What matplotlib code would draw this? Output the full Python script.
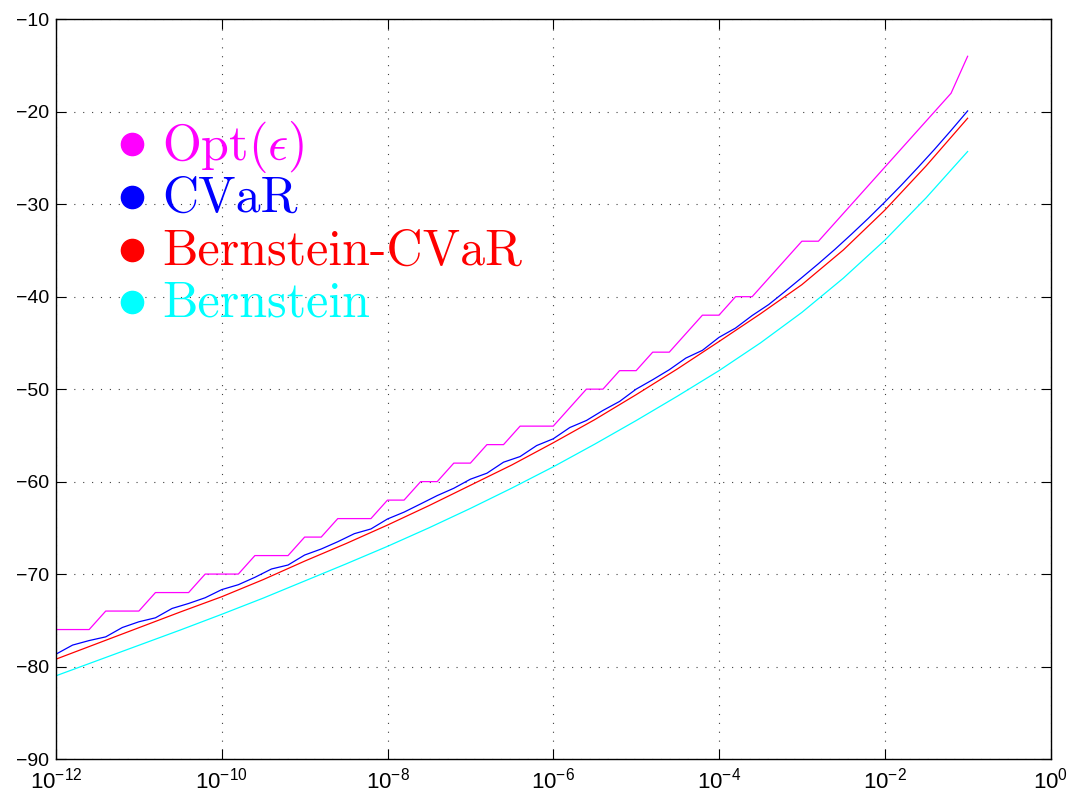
import numpy as np
import matplotlib
matplotlib.use("Agg")
from matplotlib import pyplot as plt

# epsilon grid for Opt and CVaR: 10^-12 ... 10^-1 in steps of 0.2 decade
eps_fine = 10.0 ** np.linspace(-12, -1, 56)
# epsilon grid for the smooth Bernstein curves: half decades
eps_half = 10.0 ** np.arange(-12, -0.99, 0.5)

opt_eps = [-76, -76, -76, -74, -74, -74, -72, -72, -72, -70,
           -70, -70, -68, -68, -68, -66, -66, -64, -64, -64,
           -62, -62, -60, -60, -58, -58, -56, -56, -54, -54,
           -54, -52, -50, -50, -48, -48, -46, -46, -44, -42,
           -42, -40, -40, -38, -36, -34, -34, -32, -30, -28,
           -26, -24, -22, -20, -18, -14]

cvar = [-78.66, -77.68, -77.19, -76.79, -75.78, -75.16, -74.73, -73.72, -73.18, -72.56,
        -71.68, -71.15, -70.35, -69.45, -69.02, -67.94, -67.29, -66.50, -65.63, -65.12,
        -64.04, -63.30, -62.41, -61.51, -60.72, -59.74, -59.09, -57.90, -57.29, -56.10,
        -55.37, -54.15, -53.39, -52.30, -51.33, -50.00, -48.98, -47.90, -46.64, -45.80,
        -44.40, -43.39, -42.04, -40.85, -39.41, -37.93, -36.43, -34.87, -33.23, -31.54,
        -29.77, -27.94, -26.03, -24.07, -22.02, -19.91]

bern_cvar = [-79.2, -77.5, -75.8, -74.1, -72.45, -70.6, -68.6, -66.7, -64.7, -62.6,
             -60.4, -58.2, -55.8, -53.3, -50.6, -47.8, -44.85, -41.85, -38.7, -34.95,
             -30.65, -25.85, -20.7]

bernstein = [-81.0, -79.35, -77.7, -76.05, -74.35, -72.6, -70.75, -68.9, -67.0, -65.0,
             -62.9, -60.7, -58.4, -55.95, -53.4, -50.75, -48.0, -45.0, -41.7, -38.0,
             -33.9, -29.3, -24.3]

labels = ["Opt($\\epsilon$)", "CVaR", "Bernstein-CVaR", "Bernstein"]
colors = ["#ff00ff", "#0000ff", "#ff0000", "#00ffff"]

W, H = 1068, 794
plt.rcParams['font.family'] = ['Liberation Sans', 'DejaVu Sans']
plt.rcParams['mathtext.fontset'] = 'custom'
plt.rcParams['mathtext.rm'] = 'Liberation Sans'
plt.rcParams['mathtext.it'] = 'Liberation Sans:italic'

fig = plt.figure(figsize=(W / 100, H / 100), dpi=100)
ax = fig.add_axes([56 / W, 1 - 759 / H, 994.5 / W, 739.7 / H])

lw = 0.9
ax.plot(eps_fine, opt_eps, color=colors[0], lw=lw)
ax.plot(eps_fine, cvar, color=colors[1], lw=lw)
ax.plot(eps_half, bern_cvar, color=colors[2], lw=lw)
ax.plot(eps_half, bernstein, color=colors[3], lw=lw)

ax.set_xscale('log')
ax.set_xlim(1e-12, 1e0)
ax.set_ylim(-90, -10)
xt = 10.0 ** np.arange(-12, 1, 2)
ax.set_xticks(xt)
ax.set_xticklabels(["$\\mathregular{10^{%d}}$" % k for k in range(-12, 1, 2)])
ax.xaxis.set_minor_locator(matplotlib.ticker.NullLocator())
ax.set_yticks(np.arange(-90, -9, 10))

ax.tick_params(which='major', direction='in', length=7.2, width=0.8,
               top=True, right=True, colors='black')
ax.tick_params(axis='x', pad=6, labelsize=16)
ax.tick_params(axis='y', pad=5, labelsize=14)
for s in ax.spines.values():
    s.set_linewidth(1.0)

ax.grid(True, which='major', color='0.25', linestyle=(0, (1, 7)), linewidth=0.8)

# custom legend: coloured dots with large roman text
dot_y = [144.3, 197.3, 250.0, 302.3]
text_y = [160.0, 211.7, 265.0, 316.7]
for lab, c, dy, ty in zip(labels, colors, dot_y, text_y):
    ax.plot([132.3 / W], [1 - dy / H], 'o', color=c, markersize=16,
            transform=fig.transFigure, clip_on=False)
    fig.text(162 / W, 1 - ty / H, lab, color=c, fontsize=36,
             family='cmr10', math_fontfamily='cm', va='baseline', ha='left')

fig.savefig("out.png", dpi=100, facecolor='white')
